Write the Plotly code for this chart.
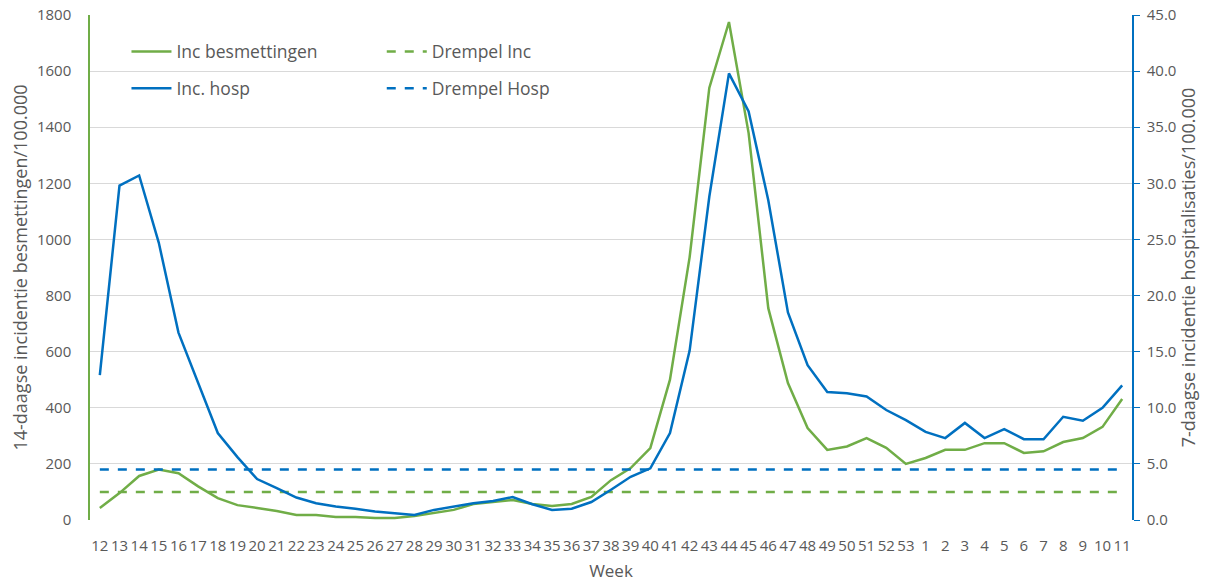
import plotly.graph_objects as go

# Week labels (week 12 of one year through week 11 of the next)
weeks = [str(w) for w in range(12, 54)] + [str(w) for w in range(1, 12)]

# 14-day incidence of infections per 100.000 (left axis)
inc_besmettingen = [43, 96, 157, 180, 167, 120, 78, 53, 43, 32, 18, 18, 11, 11, 7, 7,
                    14, 25, 36, 57, 65, 71, 57, 50, 57, 82, 142, 185, 256, 500, 937,
                    1540, 1775, 1379, 755, 488, 328, 250, 262, 292, 257, 200, 221, 250,
                    250, 274, 274, 239, 245, 278, 292, 332, 431]

# 7-day incidence of hospitalisations per 100.000 (right axis)
inc_hosp = [12.9, 29.8, 30.7, 24.7, 16.7, 12.3, 7.75, 5.6, 3.65, 2.85, 2.0, 1.5, 1.2,
            1.0, 0.75, 0.6, 0.45, 0.9, 1.2, 1.5, 1.7, 2.05, 1.4, 0.9, 1.0, 1.6, 2.7,
            3.85, 4.6, 7.75, 15.1, 28.8, 39.8, 36.4, 28.5, 18.5, 13.8, 11.4, 11.3, 11.0,
            9.8, 8.9, 7.85, 7.3, 8.65, 7.3, 8.1, 7.2, 7.2, 9.2, 8.85, 10.0, 12.0]

# Threshold levels
drempel_inc = 100
drempel_hosp = 4.5

GREEN = "#70AD47"
BLUE = "#0070C0"
TXT = "#595959"
FONT = "Open Sans"

fig = go.Figure()
fig.add_trace(go.Scatter(x=weeks, y=inc_besmettingen, mode="lines", name="Inc besmettingen",
                         line=dict(color=GREEN, width=2.5), legend="legend", legendgroup="a"))
fig.add_trace(go.Scatter(x=weeks, y=inc_hosp, mode="lines", name="Inc. hosp",
                         line=dict(color=BLUE, width=2.5), yaxis="y2", legend="legend", legendgroup="b"))
fig.add_trace(go.Scatter(x=weeks, y=[drempel_inc] * len(weeks), mode="lines", name="Drempel Inc",
                         line=dict(color=GREEN, width=2.5, dash="dash"), legend="legend2", legendgroup="c"))
fig.add_trace(go.Scatter(x=weeks, y=[drempel_hosp] * len(weeks), mode="lines", name="Drempel Hosp",
                         line=dict(color=BLUE, width=2.5, dash="dash"), yaxis="y2", legend="legend2",
                         legendgroup="d"))

legend_style = dict(y=0.963, xanchor="left", yanchor="top", bgcolor="rgba(0,0,0,0)",
                    font=dict(size=17.5, color=TXT), traceorder="grouped", tracegroupgap=11,
                    itemwidth=40)

fig.update_layout(
    width=1214, height=586,
    margin=dict(l=90, r=82, t=15, b=66, autoexpand=False),
    paper_bgcolor="white", plot_bgcolor="white",
    font=dict(family=FONT, size=15, color=TXT),
    xaxis=dict(type="category", categoryorder="array", categoryarray=weeks,
               range=[-0.5, len(weeks) - 0.5], tickangle=0, ticklabelstandoff=15,
               tickfont=dict(size=15, color=TXT), showgrid=False, showline=False,
               ticks="", title=dict(text="Week", font=dict(size=17, color=TXT), standoff=11)),
    yaxis=dict(range=[0, 1800], dtick=200, showgrid=True, gridcolor="#D9D9D9", gridwidth=1.2,
               showline=True, linecolor=GREEN, linewidth=1.5, zeroline=False,
               tickfont=dict(size=15, color=TXT), ticks="", ticklabelstandoff=14,
               title=dict(text="14-daagse incidentie besmettingen/100.000",
                          font=dict(size=18, color=TXT), standoff=5)),
    yaxis2=dict(range=[0, 45], dtick=5, tickformat=".1f", overlaying="y", side="right",
                showgrid=False, showline=True, linecolor=BLUE, linewidth=1.5, zeroline=False,
                ticks="outside", ticklen=6, tickcolor=BLUE, ticklabelstandoff=4,
                tickfont=dict(size=15, color=TXT),
                title=dict(text="7-daagse incidentie hospitalisaties/100.000",
                           font=dict(size=18, color=TXT), standoff=4)),
    legend=dict(x=0.035, **legend_style),
    legend2=dict(x=0.28, **legend_style),
)

fig.write_html("out.html")
